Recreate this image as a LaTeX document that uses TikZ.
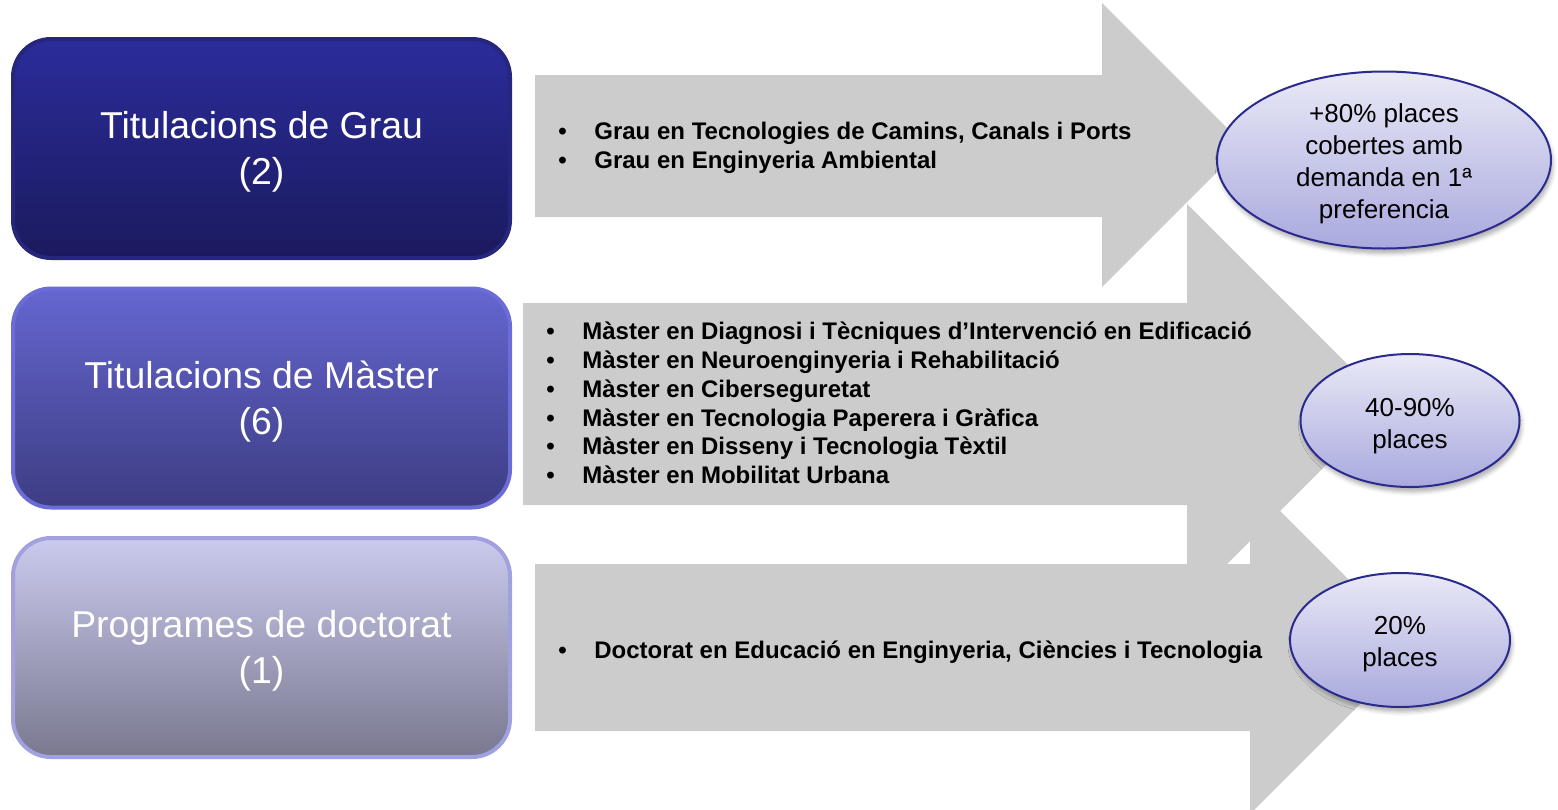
\documentclass[tikz,border=0pt]{standalone}
\usepackage{fontspec}
\setmainfont{Liberation Sans}
\usetikzlibrary{shapes.geometric,shadows.blur}
\definecolor{arrowgray}{HTML}{CCCCCC}
\definecolor{bAtop}{HTML}{2B2C9B}
\definecolor{bAbot}{HTML}{1B1A5E}
\definecolor{bAline}{HTML}{26277C}
\definecolor{bBtop}{HTML}{6566D0}
\definecolor{bBbot}{HTML}{3D3C83}
\definecolor{bBline}{HTML}{6C6CD6}
\definecolor{bCtop}{HTML}{CACAEE}
\definecolor{bCbot}{HTML}{79788F}
\definecolor{bCline}{HTML}{A1A1E0}
\definecolor{elltop}{HTML}{E9E9F7}
\definecolor{ellbot}{HTML}{A9A9DE}
\definecolor{ellline}{HTML}{2B2B8F}
\newcommand\bulitem[1]{\makebox[18pt][l]{•}#1}
\begin{document}
\begin{tikzpicture}[x=0.5pt,y=-0.5pt,
  stagebox/.style={rectangle, rounded corners=19pt, line width=2pt,
    minimum width=248.5pt, minimum height=109.5pt, inner sep=0pt},
  stagetext/.style={align=center, inner sep=0pt, text=white,
    font=\fontsize{18.7}{23}\selectfont},
  flow/.style={fill=arrowgray, draw=none},
  items/.style={anchor=west, align=left, inner sep=0pt,
    font=\bfseries\fontsize{12}{14.4}\selectfont},
  result/.style={ellipse, draw=ellline, line width=1pt, top color=elltop,
    bottom color=ellbot, inner sep=0pt,
    blur shadow={shadow xshift=1pt, shadow yshift=-2.5pt, shadow blur radius=2pt, shadow opacity=30}},
  restext/.style={align=center, inner sep=0pt, font=\fontsize{13}{16}\selectfont}
]
\clip (0,0) rectangle (1558,809);
% arrows
\path[flow] (535,75) -- (1102,75) -- (1102,3) -- (1244,145) -- (1102,287) -- (1102,217) -- (535,217) -- cycle;
\path[flow] (523,303) -- (1187,303) -- (1187,204) -- (1387,404) -- (1187,604) -- (1187,505) -- (523,505) -- cycle;
\path[flow] (535,564) -- (1250,564) -- (1250,481) -- (1416.5,647.5) -- (1250,814) -- (1250,731) -- (535,731) -- cycle;
% left boxes
\node[stagebox, draw=bAline, top color=bAtop, bottom color=bAbot] (grau) at (261.5,148.5) {};
\node[stagebox, draw=bBline, top color=bBtop, bottom color=bBbot] (master) at (261.5,398) {};
\node[stagebox, draw=bCline, top color=bCtop, bottom color=bCbot] (doct) at (261.5,647.5) {};
\node[stagetext] (graulabel) at (261.5,152) {Titulacions de Grau\\(2)};
\node[stagetext] (masterlabel) at (261.5,401.5) {Titulacions de Màster\\(6)};
\node[stagetext] (doctlabel) at (261.5,651) {Programes de doctorat\\(1)};
% item lists
\node[items, font=\bfseries\fontsize{12}{14.6}\selectfont] (grauitems) at (558,148) {\bulitem{Grau en Tecnologies de Camins, Canals i Ports}\\\bulitem{Grau en Enginyeria Ambiental}};
\node[items] (masteritems) at (546,403) {\bulitem{Màster en Diagnosi i Tècniques d’Intervenció en Edificació}\\
\bulitem{Màster en Neuroenginyeria i Rehabilitació}\\
\bulitem{Màster en Ciberseguretat}\\
\bulitem{Màster en Tecnologia Paperera i Gràfica}\\
\bulitem{Màster en Disseny i Tecnologia Tèxtil}\\
\bulitem{Màster en Mobilitat Urbana}};
\node[items] (doctitems) at (558,652) {\bulitem{Doctorat en Educació en Enginyeria, Ciències i Tecnologia}};
% result ellipses
\node[result, minimum width=167pt, minimum height=88.5pt] (resA) at (1384,160) {};
\node[restext] (resAtext) at (1384,164) {+80\% places\\cobertes amb\\demanda en 1ª\\preferencia};
\node[result, minimum width=109.5pt, minimum height=66.5pt] (resB) at (1410,420.5) {};
\node[restext] (resBtext) at (1410,426) {40-90\%\\places};
\node[result, minimum width=110pt, minimum height=67pt] (resC) at (1400,640) {};
\node[restext] (resCtext) at (1400,644) {20\%\\places};
\end{tikzpicture}
\end{document}
